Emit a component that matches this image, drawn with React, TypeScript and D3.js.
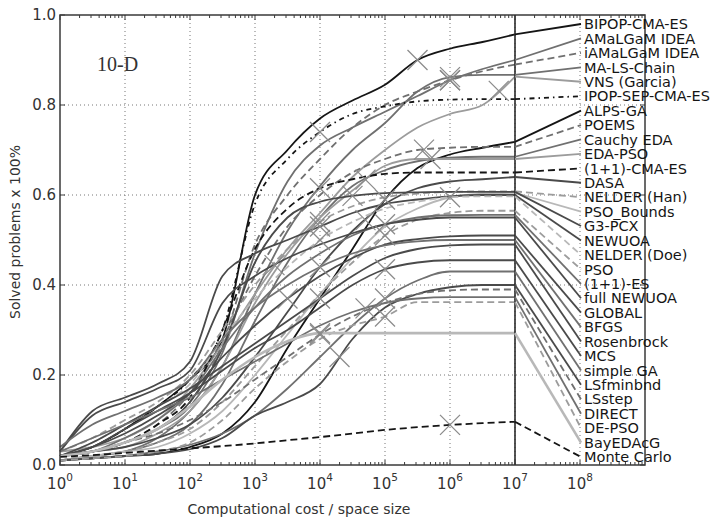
import React, { useEffect, useRef } from 'react'
import * as d3 from 'd3'

// algorithm names, ordered as in the legend (by final fraction solved)
const algorithms = [
  'BIPOP-CMA-ES', 'AMaLGaM IDEA', 'iAMaLGaM IDEA', 'MA-LS-Chain', 'VNS (Garcia)',
  'IPOP-SEP-CMA-ES', 'ALPS-GA', 'POEMS', 'Cauchy EDA', 'EDA-PSO', '(1+1)-CMA-ES',
  'DASA', 'NELDER (Han)', 'PSO_Bounds', 'G3-PCX', 'NEWUOA', 'NELDER (Doe)', 'PSO',
  '(1+1)-ES', 'full NEWUOA', 'GLOBAL', 'BFGS', 'Rosenbrock', 'MCS', 'simple GA',
  'LSfminbnd', 'LSstep', 'DIRECT', 'DE-PSO', 'BayEDAcG', 'Monte Carlo',
]

// log10 of computational cost / space size where the curves are read
const costExponents = [0, 0.5, 1, 1.5, 2, 2.5, 3, 3.5, 4, 4.5, 5, 5.5, 6, 6.5, 7]

// fraction of solved problems, one row per algorithm
const solved = [
  [0.02, 0.04, 0.08, 0.13, 0.19, 0.28, 0.6, 0.7, 0.77, 0.81, 0.845, 0.9, 0.925, 0.94, 0.957],
  [0.02, 0.03, 0.05, 0.08, 0.13, 0.25, 0.47, 0.63, 0.71, 0.75, 0.785, 0.82, 0.855, 0.88, 0.9],
  [0.02, 0.03, 0.05, 0.08, 0.14, 0.27, 0.49, 0.6, 0.68, 0.75, 0.8, 0.83, 0.855, 0.875, 0.89],
  [0.01, 0.02, 0.03, 0.06, 0.12, 0.22, 0.38, 0.52, 0.62, 0.7, 0.76, 0.83, 0.862, 0.867, 0.867],
  [0.03, 0.04, 0.06, 0.1, 0.17, 0.27, 0.38, 0.48, 0.56, 0.64, 0.7, 0.75, 0.78, 0.8, 0.863],
  [0.02, 0.04, 0.08, 0.13, 0.19, 0.3, 0.58, 0.68, 0.74, 0.78, 0.797, 0.808, 0.812, 0.813, 0.813],
  [0.01, 0.015, 0.02, 0.025, 0.04, 0.07, 0.14, 0.26, 0.37, 0.48, 0.59, 0.66, 0.69, 0.705, 0.718],
  [0.02, 0.03, 0.05, 0.09, 0.16, 0.28, 0.42, 0.53, 0.6, 0.65, 0.68, 0.7, 0.705, 0.707, 0.707],
  [0.01, 0.02, 0.03, 0.05, 0.09, 0.18, 0.32, 0.45, 0.55, 0.62, 0.655, 0.675, 0.683, 0.685, 0.685],
  [0.02, 0.03, 0.04, 0.07, 0.12, 0.22, 0.36, 0.47, 0.55, 0.61, 0.665, 0.68, 0.68, 0.68, 0.68],
  [0.02, 0.03, 0.05, 0.09, 0.15, 0.3, 0.48, 0.57, 0.615, 0.635, 0.647, 0.65, 0.65, 0.65, 0.65],
  [0.02, 0.03, 0.04, 0.06, 0.09, 0.15, 0.24, 0.34, 0.44, 0.52, 0.58, 0.615, 0.63, 0.635, 0.64],
  [0.03, 0.06, 0.1, 0.14, 0.2, 0.3, 0.4, 0.48, 0.54, 0.575, 0.595, 0.603, 0.607, 0.608, 0.608],
  [0.01, 0.02, 0.03, 0.04, 0.07, 0.12, 0.2, 0.29, 0.38, 0.46, 0.53, 0.57, 0.595, 0.603, 0.605],
  [0.02, 0.03, 0.05, 0.08, 0.14, 0.26, 0.45, 0.55, 0.585, 0.598, 0.604, 0.606, 0.607, 0.607, 0.607],
  [0.03, 0.12, 0.15, 0.18, 0.23, 0.42, 0.47, 0.5, 0.53, 0.56, 0.58, 0.59, 0.597, 0.6, 0.6],
  [0.02, 0.05, 0.09, 0.13, 0.18, 0.28, 0.37, 0.44, 0.5, 0.54, 0.57, 0.585, 0.595, 0.597, 0.597],
  [0.01, 0.02, 0.03, 0.05, 0.08, 0.14, 0.22, 0.3, 0.38, 0.45, 0.51, 0.545, 0.56, 0.565, 0.565],
  [0.02, 0.03, 0.06, 0.1, 0.16, 0.26, 0.35, 0.42, 0.47, 0.51, 0.535, 0.55, 0.555, 0.556, 0.556],
  [0.03, 0.11, 0.14, 0.17, 0.21, 0.36, 0.42, 0.46, 0.49, 0.515, 0.535, 0.545, 0.55, 0.55, 0.55],
  [0.02, 0.04, 0.07, 0.11, 0.16, 0.24, 0.31, 0.37, 0.42, 0.46, 0.49, 0.502, 0.508, 0.51, 0.51],
  [0.04, 0.09, 0.12, 0.15, 0.19, 0.28, 0.35, 0.4, 0.44, 0.47, 0.488, 0.497, 0.5, 0.5, 0.5],
  [0.02, 0.05, 0.09, 0.13, 0.17, 0.22, 0.27, 0.32, 0.37, 0.42, 0.46, 0.48, 0.488, 0.49, 0.49],
  [0.02, 0.04, 0.08, 0.12, 0.16, 0.21, 0.26, 0.3, 0.35, 0.4, 0.435, 0.45, 0.455, 0.455, 0.455],
  [0.01, 0.015, 0.02, 0.03, 0.045, 0.07, 0.11, 0.17, 0.24, 0.31, 0.37, 0.41, 0.43, 0.43, 0.43],
  [0.01, 0.015, 0.02, 0.025, 0.035, 0.06, 0.11, 0.14, 0.18, 0.28, 0.35, 0.38, 0.395, 0.4, 0.4],
  [0.02, 0.03, 0.05, 0.07, 0.1, 0.14, 0.19, 0.24, 0.29, 0.33, 0.36, 0.38, 0.388, 0.39, 0.39],
  [0.03, 0.06, 0.09, 0.12, 0.15, 0.19, 0.23, 0.27, 0.31, 0.34, 0.36, 0.37, 0.373, 0.373, 0.373],
  [0.01, 0.015, 0.02, 0.03, 0.05, 0.1, 0.17, 0.23, 0.28, 0.31, 0.33, 0.362, 0.362, 0.362, 0.362],
  [0.02, 0.03, 0.05, 0.08, 0.13, 0.19, 0.24, 0.275, 0.293, 0.293, 0.293, 0.293, 0.293, 0.293, 0.293],
  [0.018, 0.022, 0.027, 0.032, 0.037, 0.042, 0.048, 0.055, 0.062, 0.07, 0.078, 0.084, 0.089, 0.093, 0.096],
]

// log10 of the median budget of each algorithm (the crosses)
const budgetExponents = [
  5.5, 6.0, 6.0, 6.0, 6.75, 4.0, 5.0, 5.6, 4.7, 5.7, 4.0, 4.7, 4.0, 6.0, 4.5, 4.0,
  4.0, 5.0, 5.0, 3.3, 3.5, 4.0, 4.0, 5.0, 5.0, 4.3, 4.0, 4.7, 5.0, 4.0, 6.0,
]

const xTickExponents = [0, 1, 2, 3, 4, 5, 6, 7, 8]
const yTicks = [0, 0.2, 0.4, 0.6, 0.8, 1.0]

// line styles, index matches algorithms
const K = '#151515', D = '#4a4a4a', G = '#707070', L = '#9c9c9c', P = '#b8b8b8'
const lineColors = [K, G, G, G, L, K, K, G, G, L, K, D, L, P, D, D, P, L, G, D, D, G, D, D, G, D, G, G, L, P, K]
const lineDashes = [
  null, null, '7,4', null, null, '5,4,1.5,4', null, '7,4', null, null, '7,4', null,
  '7,4', null, null, null, '7,4', '7,4', null, null, null, null, null, null, null,
  null, '7,4', null, '7,4', null, '7,4',
]

function App() {
  const ref = useRef(null)

  useEffect(() => {
    document.body.style.margin = '0'
    const svg = d3.select(ref.current)
    svg.selectAll('*').remove()

    const left = 60, right = 645, top = 15, bottom = 465
    const x = d3.scaleLog().domain([1, 1e9]).range([left, right])
    const y = d3.scaleLinear().domain([0, 1]).range([bottom, top])
    const font = 'DejaVu Sans, sans-serif'

    // grid
    const grid = svg.append('g').attr('stroke', '#777').attr('stroke-width', 1).attr('stroke-dasharray', '1,3')
    xTickExponents.slice(1).forEach(e => {
      grid.append('line').attr('x1', x(10 ** e)).attr('x2', x(10 ** e)).attr('y1', top).attr('y2', bottom)
    })
    yTicks.slice(1, -1).forEach(v => {
      grid.append('line').attr('x1', left).attr('x2', right).attr('y1', y(v)).attr('y2', y(v))
    })

    // curves
    const line = d3
      .line()
      .x(d => x(10 ** d[0]))
      .y(d => y(d[1]))
      .curve(d3.curveMonotoneX)
    const curves = svg.append('g').attr('fill', 'none')
    solved.forEach((row, i) => {
      curves
        .append('path')
        .attr('d', line(costExponents.map((e, j) => [e, row[j]])))
        .attr('stroke', lineColors[i])
        .attr('stroke-width', i === 29 ? 2.6 : 1.8)
        .attr('stroke-dasharray', lineDashes[i])
    })

    // budget crosses
    const crosses = svg.append('g').attr('stroke', '#8a8a8a').attr('stroke-width', 1.2)
    budgetExponents.forEach((e, i) => {
      const v = d3.scaleLinear().domain(costExponents).range(solved[i])(e)
      const cx = x(10 ** e), cy = y(v), r = 10
      crosses.append('line').attr('x1', cx - r).attr('x2', cx + r).attr('y1', cy - r).attr('y2', cy + r)
      crosses.append('line').attr('x1', cx - r).attr('x2', cx + r).attr('y1', cy + r).attr('y2', cy - r)
    })

    // frame and 10^7 budget line
    svg.append('rect').attr('x', left).attr('y', top).attr('width', right - left).attr('height', bottom - top)
      .attr('fill', 'none').attr('stroke', '#3a3a3a').attr('stroke-width', 1.5)
    svg.append('line').attr('x1', x(1e7)).attr('x2', x(1e7)).attr('y1', top).attr('y2', bottom)
      .attr('stroke', '#2a2a2a').attr('stroke-width', 1.6)

    // ticks
    const ticks = svg.append('g').attr('stroke', '#3a3a3a').attr('stroke-width', 1)
    d3.range(0, 9).forEach(e => {
      d3.range(1, 10).forEach(m => {
        const xv = x(m * 10 ** e)
        const len = m === 1 ? 5 : 3
        ticks.append('line').attr('x1', xv).attr('x2', xv).attr('y1', bottom).attr('y2', bottom - len)
        ticks.append('line').attr('x1', xv).attr('x2', xv).attr('y1', top).attr('y2', top + len)
      })
    })
    yTicks.forEach(v => {
      ticks.append('line').attr('x1', left).attr('x2', left + 5).attr('y1', y(v)).attr('y2', y(v))
      ticks.append('line').attr('x1', right).attr('x2', right - 5).attr('y1', y(v)).attr('y2', y(v))
    })

    // tick labels
    xTickExponents.forEach(e => {
      const t = svg.append('text').attr('x', x(10 ** e)).attr('y', 489).attr('text-anchor', 'middle')
        .attr('font-family', font).attr('font-size', 15).attr('fill', '#333')
      t.append('tspan').text('10')
      t.append('tspan').attr('dy', -8).attr('font-size', 10.5).text(String(e))
    })
    yTicks.forEach(v => {
      svg.append('text').attr('x', 56).attr('y', y(v)).attr('dy', '0.35em').attr('text-anchor', 'end')
        .attr('font-family', font).attr('font-size', 15).attr('fill', '#333').text(v.toFixed(1))
    })

    // axis titles
    svg.append('text').attr('x', 299).attr('y', 514).attr('text-anchor', 'middle')
      .attr('font-family', font).attr('font-size', 14).attr('fill', '#333').text('Computational cost / space size')
    svg.append('text').attr('transform', 'translate(20, 232) rotate(-90)').attr('text-anchor', 'middle')
      .attr('font-family', font).attr('font-size', 14).attr('fill', '#333').text('Solved problems x 100%')

    svg.append('text').attr('x', 97).attr('y', 71).attr('font-family', 'Liberation Serif, DejaVu Serif, serif')
      .attr('font-size', 20).attr('fill', '#333').text('10-D')

    // labels with connecting lines (first line keeps rising to 0.98 at its label)
    const labelY = d3.scaleLinear().domain([0, algorithms.length - 1]).range([24, 457])
    const legend = svg.append('g')
    algorithms.forEach((name, i) => {
      const end = solved[i][solved[i].length - 1]
      const ly = labelY(i)
      legend.append('line').attr('x1', x(1e7)).attr('y1', y(end)).attr('x2', 581).attr('y2', ly)
        .attr('stroke', lineColors[i]).attr('stroke-width', i === 29 ? 2.6 : 1.8)
        .attr('stroke-dasharray', lineDashes[i])
      legend.append('text').attr('x', 584).attr('y', ly).attr('dy', '0.36em')
        .attr('font-family', font).attr('font-size', 14.5).attr('fill', '#151515').text(name)
    })
  }, [])

  return <svg ref={ref} width={721} height={520} style={{ display: 'block', background: '#fff' }} />
}

export default App
